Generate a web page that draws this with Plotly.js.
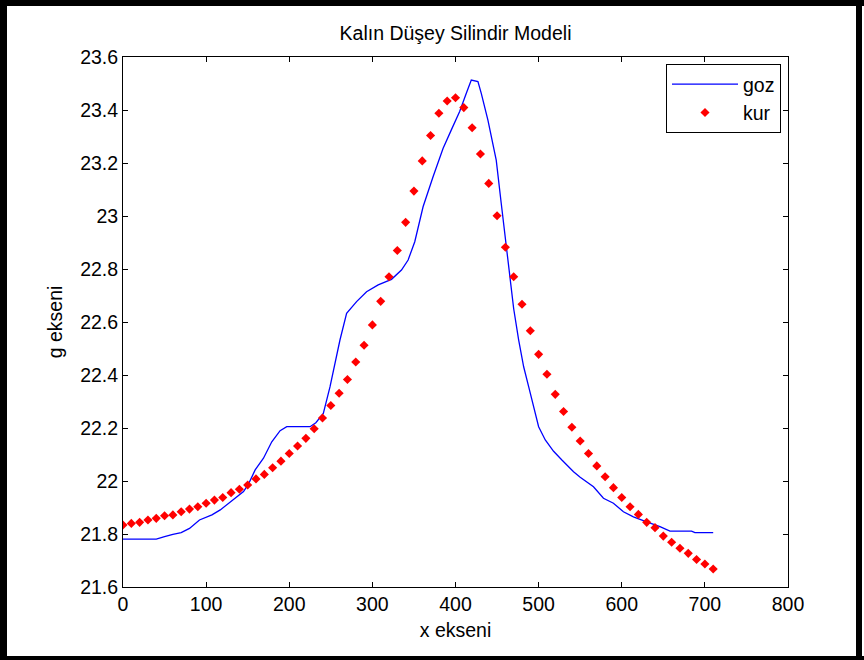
<!DOCTYPE html>
<html>
<head>
<meta charset="utf-8">
<script src="https://cdn.plot.ly/plotly-3.0.1.min.js"></script>
<style>
html,body{margin:0;padding:0;background:#fff;}
#chart{width:864px;height:660px;}
</style>
</head>
<body>
<div id="chart"></div>
<script>
// "goz" (observed) line
const gozX = [0, 40, 50, 60, 70, 80, 92, 107, 117, 129, 137, 145, 151, 159, 169, 179, 189, 197, 225, 232, 241, 249, 261, 269, 281, 293, 307, 323, 335, 343, 351, 361, 373, 385, 395, 405, 413, 419, 427, 431, 439, 449, 455, 460, 465, 470, 476, 482, 488, 494, 500, 508, 518, 528, 542, 550, 566, 578, 590, 602, 614, 630, 646, 658, 684, 688, 710];
const gozY = [21.781, 21.781, 21.790, 21.799, 21.805, 21.821, 21.853, 21.872, 21.891, 21.922, 21.941, 21.960, 21.989, 22.042, 22.086, 22.148, 22.190, 22.205, 22.205, 22.220, 22.255, 22.355, 22.532, 22.633, 22.677, 22.714, 22.740, 22.761, 22.796, 22.834, 22.903, 23.035, 23.148, 23.255, 23.325, 23.394, 23.463, 23.513, 23.507, 23.463, 23.362, 23.211, 23.048, 22.920, 22.780, 22.650, 22.532, 22.431, 22.356, 22.280, 22.205, 22.155, 22.112, 22.079, 22.035, 22.014, 21.978, 21.935, 21.916, 21.884, 21.865, 21.846, 21.828, 21.811, 21.811, 21.805, 21.805];

// "kur" (computed) points
const kurX = [0,10,20,30,40,50,60,70,80,90,100,110,120,130,140,150,160,170,180,190,200,210,220,230,240,250,260,270,280,290,300,310,320,330,340,350,360,370,380,390,400,410,420,430,440,450,460,470,480,490,500,510,520,530,540,550,560,570,580,590,600,610,620,630,640,650,660,670,680,690,700,710];
const kurY = [21.834,21.840,21.844,21.853,21.859,21.869,21.872,21.884,21.894,21.903,21.916,21.928,21.938,21.956,21.969,21.985,22.008,22.025,22.050,22.075,22.104,22.132,22.161,22.197,22.238,22.285,22.331,22.383,22.449,22.512,22.589,22.678,22.771,22.870,22.976,23.094,23.208,23.304,23.388,23.434,23.446,23.409,23.333,23.234,23.123,23.001,22.882,22.771,22.667,22.567,22.478,22.403,22.327,22.262,22.203,22.151,22.104,22.057,22.016,21.975,21.938,21.903,21.874,21.844,21.824,21.792,21.769,21.746,21.727,21.704,21.687,21.668];

const xTicks = [0,100,200,300,400,500,600,700,800];
const yTicks = [21.6,21.8,22,22.2,22.4,22.6,22.8,23,23.2,23.4,23.6];
const yTickText = ['21.6','21.8','22','22.2','22.4','22.6','22.8','23','23.2','23.4','23.6'];

const FONT = 'Arial, "Liberation Sans", sans-serif';

const traces = [
  {x: gozX, y: gozY, name: 'goz', type: 'scatter', mode: 'lines',
   line: {color: '#0000ff', width: 1.3}},
  {x: kurX, y: kurY, name: 'kur', type: 'scatter', mode: 'markers',
   marker: {color: '#ff0000', symbol: 'diamond', size: 7, line: {width: 0}}}
];

// plot area: x 123..788, y 57..587
const L = 123, R = 788, T = 57, B = 587, W = 864, H = 660;
const px = v => (v - L) / (R - L);
const py = v => (B - v) / (B - T);
function frameRect(x0, y0, x1, y1) {
  return {type: 'rect', xref: 'paper', yref: 'paper', x0: px(x0), x1: px(x1), y0: py(y1), y1: py(y0),
          fillcolor: '#000', line: {width: 0}, layer: 'above'};
}

const layout = {
  width: W, height: H,
  margin: {l: L, r: W - R, t: T, b: H - B, pad: 0},
  paper_bgcolor: '#fff', plot_bgcolor: '#fff',
  font: {family: FONT, size: 19.5, color: '#000'},
  title: {text: 'Kalın Düşey Silindir Modeli', font: {family: FONT, size: 19.5, color: '#000'},
          x: 0.5, xref: 'paper', xanchor: 'center', y: 1 - 33 / H, yanchor: 'middle'},
  xaxis: {range: [0, 800], tickvals: xTicks, ticktext: xTicks.map(String),
          ticks: 'inside', ticklen: 5, tickcolor: '#000', tickwidth: 1,
          showline: true, linecolor: '#000', linewidth: 1, mirror: 'ticks',
          showgrid: false, zeroline: false,
          title: {text: 'x ekseni', font: {family: FONT, size: 19.5}, standoff: 8},
          tickfont: {family: FONT, size: 19.5, color: '#000'}},
  yaxis: {range: [21.6, 23.6], tickvals: yTicks, ticktext: yTickText,
          ticks: 'inside', ticklen: 5, tickcolor: '#000', tickwidth: 1,
          showline: true, linecolor: '#000', linewidth: 1, mirror: 'ticks',
          showgrid: false, zeroline: false,
          title: {text: 'g ekseni', font: {family: FONT, size: 19.5}, standoff: 12},
          tickfont: {family: FONT, size: 19.5, color: '#000'}},
  showlegend: true,
  legend: {x: px(781), xanchor: 'right', y: py(64), yanchor: 'top',
           bgcolor: '#fff', bordercolor: '#000', borderwidth: 1,
           font: {family: FONT, size: 19.5, color: '#000'},
           itemwidth: 66},
  shapes: [
    frameRect(0, 0, W, 6),
    frameRect(0, 0, 7, H),
    frameRect(856, 0, 862, H),
    frameRect(0, 656, W, H)
  ]
};

Plotly.newPlot('chart', traces, layout, {displayModeBar: false, staticPlot: true});
</script>
</body>
</html>
